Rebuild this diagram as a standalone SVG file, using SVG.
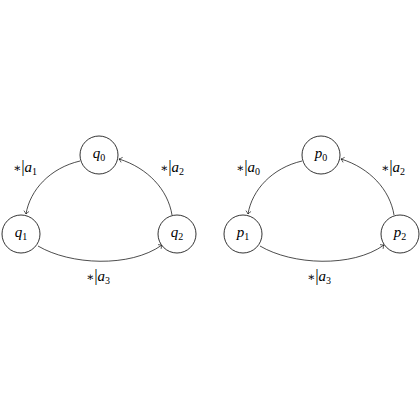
<svg xmlns="http://www.w3.org/2000/svg" width="420" height="420" viewBox="0 0 420 420">
<style>
.node circle{fill:#fff;stroke:#000;stroke-width:0.8}
.edge{fill:none;stroke:#000;stroke-width:0.7;marker-end:url(#to)}
text{font-family:"Liberation Serif","DejaVu Serif",serif;font-size:15px;fill:#000}
.m{font-style:italic}
.sub{font-size:10px;font-style:normal}
.ast{font-family:"DejaVu Serif",serif;font-size:12px}
.bar{font-size:17px}
</style>
<defs>
<marker id="to" viewBox="-4 -4 5 8" markerWidth="5" markerHeight="8" refX="0" refY="0" orient="auto" markerUnits="userSpaceOnUse">
<path d="M-3,-2.6 Q-1,-0.6 0,0 Q-1,0.6 -3,2.6" fill="none" stroke="#000" stroke-width="0.6"/>
</marker>
</defs>
<rect width="420" height="420" fill="#fff"/>
<g id="connectors">
<path class="edge" d="M80,161 C50,168 30,190 26,214"/>
<path class="edge" d="M172,215 C168,190 148,168 119,159"/>
<path class="edge" d="M38,246 C70,265 130,268 162,245"/>
<path class="edge" d="M302,161 C272,168 252,190 248,214"/>
<path class="edge" d="M394,215 C390,190 370,168 341,159"/>
<path class="edge" d="M260,246 C292,265 352,268 384,245"/>
</g>
<g id="q0" class="node"><circle cx="99" cy="155" r="19"/><text x="99" y="158" text-anchor="middle"><tspan class="m">q</tspan><tspan class="sub" dy="3">0</tspan></text></g>
<g id="q1" class="node"><circle cx="21" cy="234" r="19"/><text x="21" y="237" text-anchor="middle"><tspan class="m">q</tspan><tspan class="sub" dy="3">1</tspan></text></g>
<g id="q2" class="node"><circle cx="177" cy="234" r="19"/><text x="177" y="237" text-anchor="middle"><tspan class="m">q</tspan><tspan class="sub" dy="3">2</tspan></text></g>
<g id="p0" class="node"><circle cx="321" cy="155" r="19"/><text x="321" y="158" text-anchor="middle"><tspan class="m">p</tspan><tspan class="sub" dy="3">0</tspan></text></g>
<g id="p1" class="node"><circle cx="243" cy="234" r="19"/><text x="243" y="237" text-anchor="middle"><tspan class="m">p</tspan><tspan class="sub" dy="3">1</tspan></text></g>
<g id="p2" class="node"><circle cx="400" cy="234" r="19"/><text x="400" y="237" text-anchor="middle"><tspan class="m">p</tspan><tspan class="sub" dy="3">2</tspan></text></g>
<g id="labels">
<text x="25" y="172" text-anchor="middle"><tspan class="ast">∗</tspan><tspan class="bar">|</tspan><tspan class="m">a</tspan><tspan class="sub" dy="3">1</tspan></text>
<text x="172" y="172" text-anchor="middle"><tspan class="ast">∗</tspan><tspan class="bar">|</tspan><tspan class="m">a</tspan><tspan class="sub" dy="3">2</tspan></text>
<text x="98" y="281" text-anchor="middle"><tspan class="ast">∗</tspan><tspan class="bar">|</tspan><tspan class="m">a</tspan><tspan class="sub" dy="3">3</tspan></text>
<text x="248" y="172" text-anchor="middle"><tspan class="ast">∗</tspan><tspan class="bar">|</tspan><tspan class="m">a</tspan><tspan class="sub" dy="3">0</tspan></text>
<text x="393" y="172" text-anchor="middle"><tspan class="ast">∗</tspan><tspan class="bar">|</tspan><tspan class="m">a</tspan><tspan class="sub" dy="3">2</tspan></text>
<text x="319" y="281" text-anchor="middle"><tspan class="ast">∗</tspan><tspan class="bar">|</tspan><tspan class="m">a</tspan><tspan class="sub" dy="3">3</tspan></text>
</g>
</svg>
